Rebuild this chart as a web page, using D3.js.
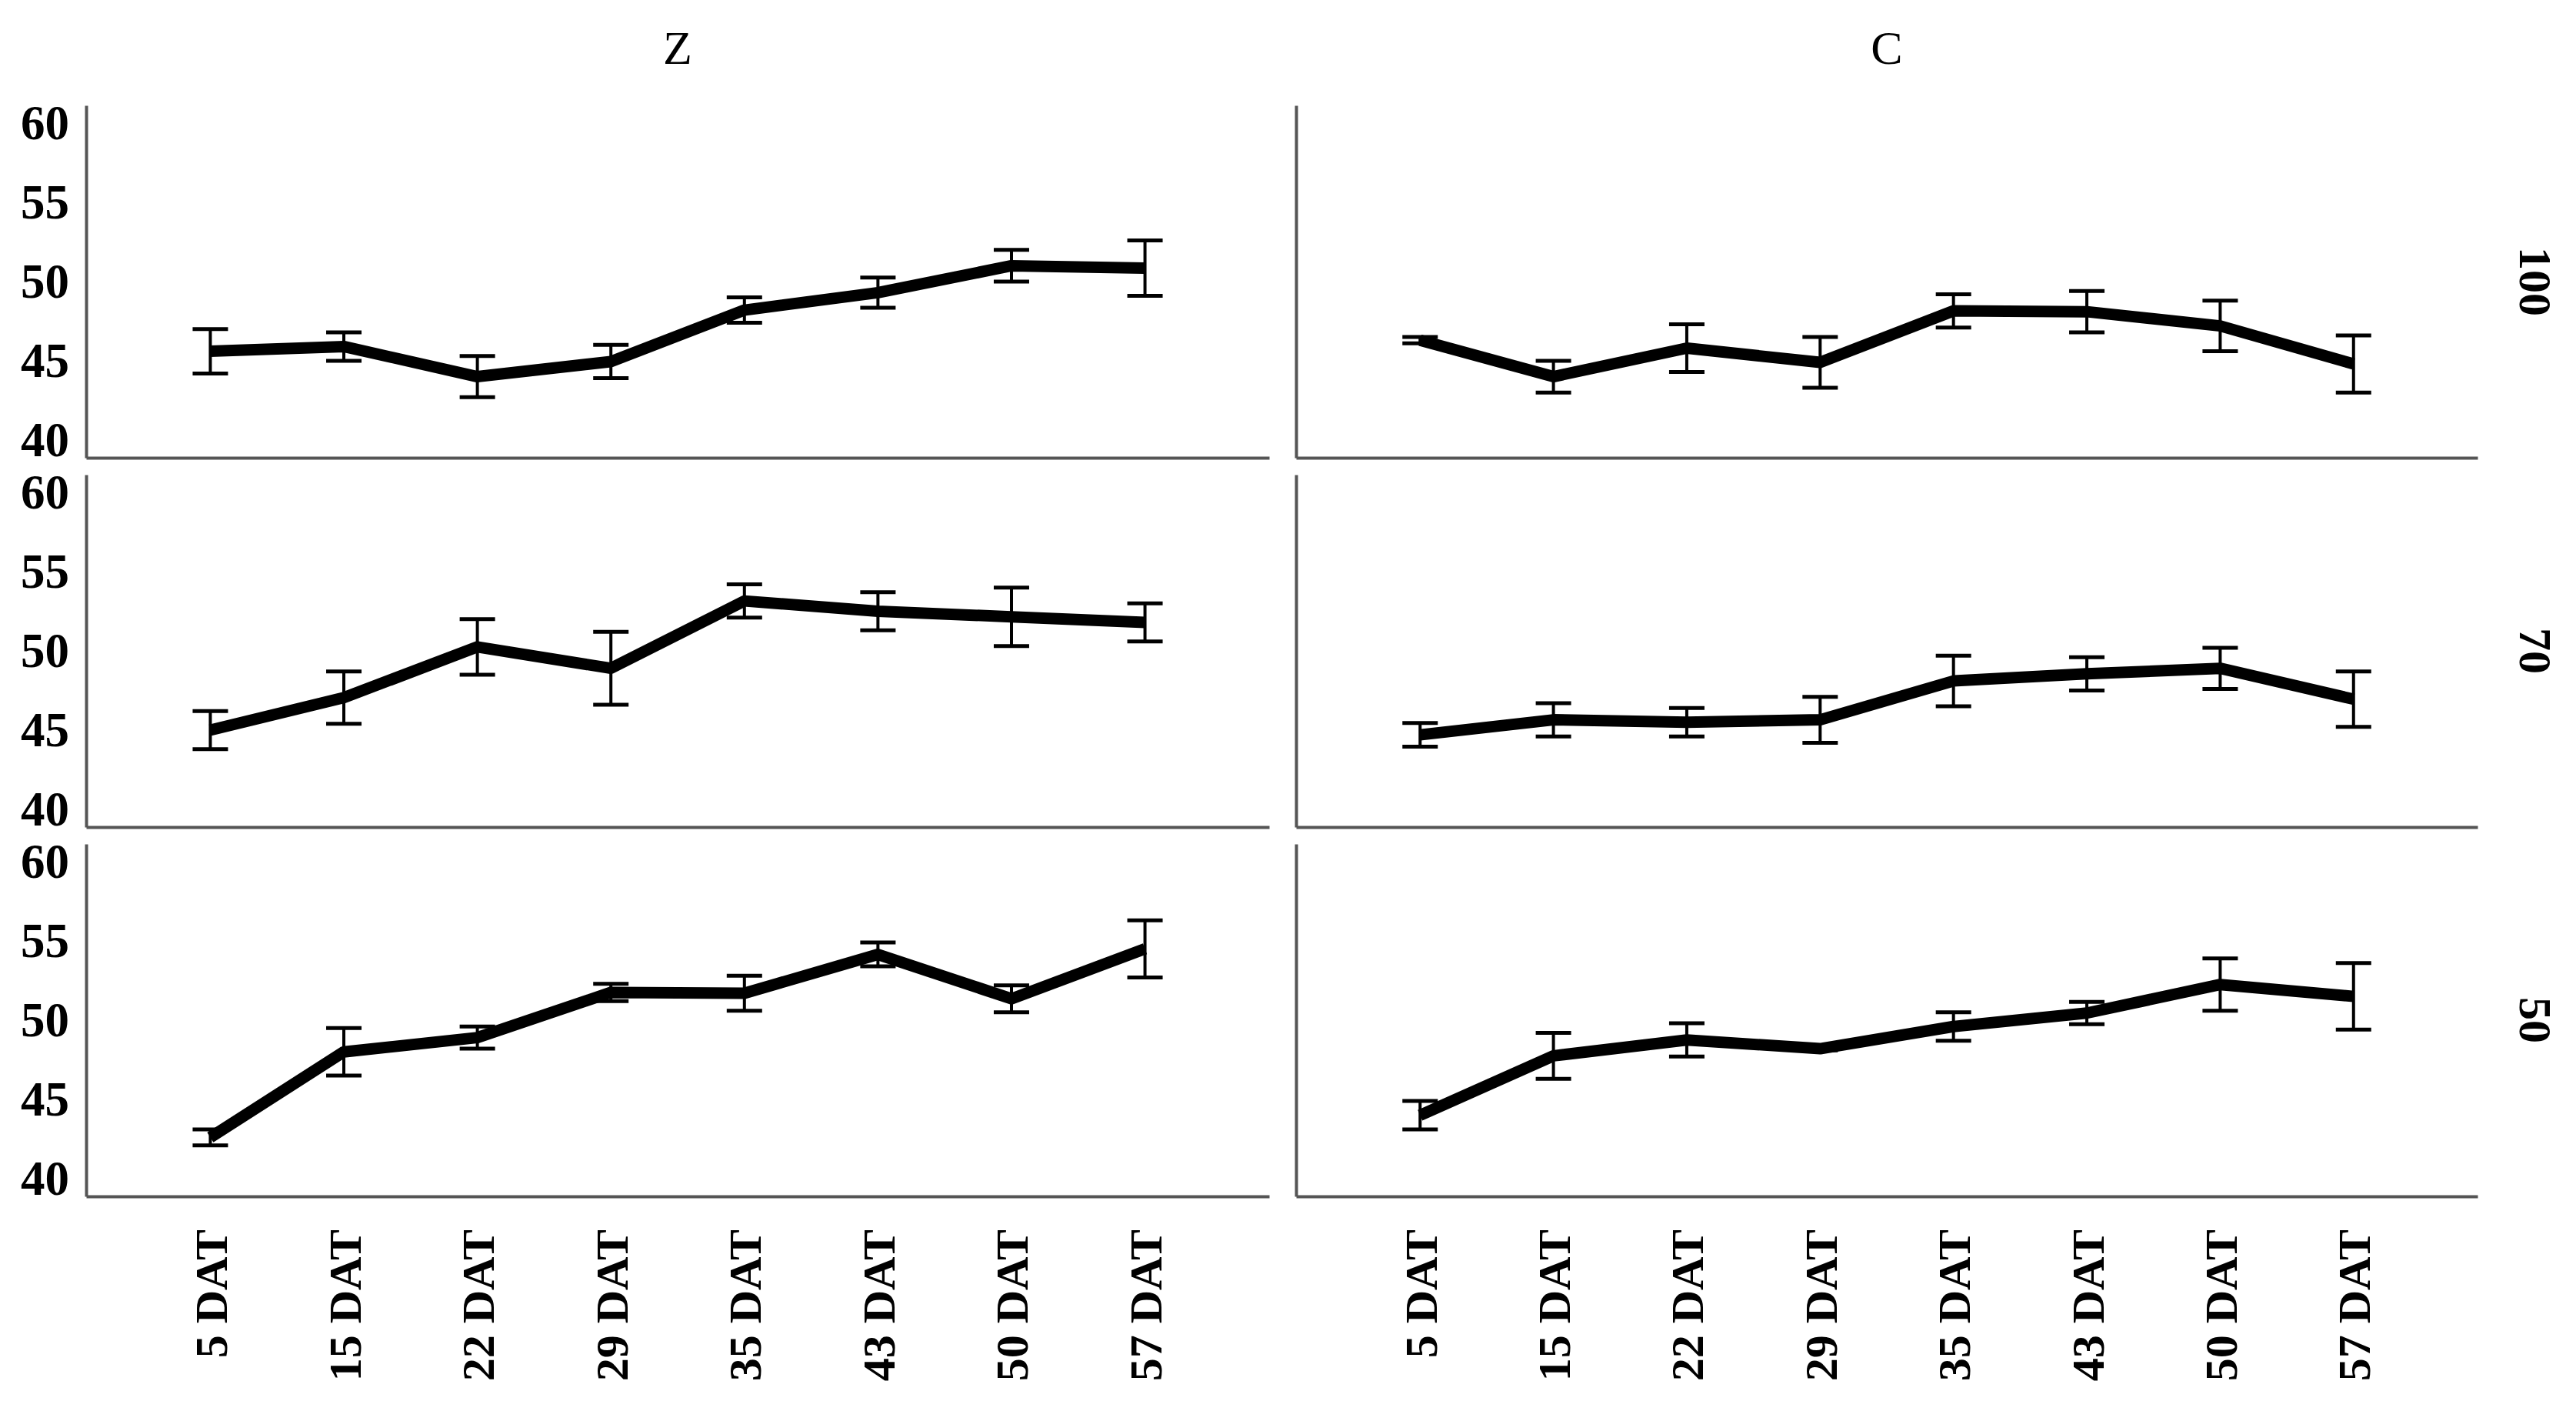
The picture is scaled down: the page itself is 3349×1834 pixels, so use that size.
<!DOCTYPE html>
<html>
<head>
<meta charset="utf-8">
<script src="https://cdn.jsdelivr.net/npm/d3@7"></script>
<style>
  body { margin: 0; background: white; }
</style>
</head>
<body>
<svg id="chart"></svg>
<script>
// line charts with error bars, 3 rows x 2 columns

const days = ["5 DAT", "15 DAT", "22 DAT", "29 DAT", "35 DAT", "43 DAT", "50 DAT", "57 DAT"];
const colNames = ["Z", "C"];
const rowNames = ["100", "70", "50"];
const yTicks = [40, 45, 50, 55, 60];

// means and error (half bar) per panel
const z100 = [45.6, 45.9, 44.0, 44.95, 48.2, 49.3, 51.0, 50.85];
const z100err = [1.4, 0.9, 1.3, 1.05, 0.8, 0.95, 1.0, 1.75];
const c100 = [46.3, 44.0, 45.8, 44.9, 48.15, 48.1, 47.2, 44.8];
const c100err = [0.2, 1.0, 1.5, 1.6, 1.05, 1.3, 1.6, 1.8];

const z70 = [45.0, 47.05, 50.25, 48.9, 53.15, 52.5, 52.15, 51.8];
const z70err = [1.2, 1.65, 1.75, 2.3, 1.05, 1.2, 1.85, 1.2];
const c70 = [44.7, 45.65, 45.5, 45.65, 48.1, 48.55, 48.9, 46.95];
const c70err = [0.75, 1.05, 0.9, 1.45, 1.6, 1.05, 1.3, 1.75];

const z50 = [42.6, 48.0, 48.9, 51.75, 51.7, 54.15, 51.35, 54.5];
const z50err = [0.5, 1.5, 0.7, 0.55, 1.1, 0.75, 0.85, 1.8];
const c50 = [44.0, 47.75, 48.75, 48.2, 49.6, 50.45, 52.25, 51.5];
const c50err = [0.9, 1.45, 1.05, 0.1, 0.9, 0.7, 1.65, 2.1];

const panels = [
  [[z100, z100err], [c100, c100err]],
  [[z70, z70err], [c70, c70err]],
  [[z50, z50err], [c50, c50err]]
];

const width = 3349;
const height = 1834;

const svg = d3.select("#chart").attr("width", width).attr("height", height);

const colX = [[112, 1650], [1685, 3221]];
const rowTop = 137;
const rowStep = 480;
const panelH = 458;

const serif = "'Liberation Serif', 'Times New Roman', serif";
const axisColor = "#555";

// column titles
colNames.forEach((c, j) => {
  svg.append("text")
    .attr("x", (colX[j][0] + colX[j][1]) / 2)
    .attr("y", 83)
    .attr("text-anchor", "middle")
    .attr("font-family", serif)
    .attr("font-size", "62px")
    .attr("fill", "black")
    .text(c);
});

rowNames.forEach((r, i) => {
  const top = rowTop + i * rowStep;
  const bottom = top + panelH;

  const y = d3.scaleLinear().domain([38.88, 61.12]).range([bottom, top]);

  // row label on the right
  svg.append("text")
    .attr("transform", "translate(3297," + ((top + bottom) / 2) + ") rotate(90)")
    .attr("text-anchor", "middle")
    .attr("dy", "0.35em")
    .attr("font-family", serif)
    .attr("font-weight", "bold")
    .attr("font-size", "60px")
    .attr("fill", "black")
    .text(r);

  colNames.forEach((c, j) => {
    const x = d3.scalePoint().domain(days).range(colX[j]).padding(0.93);
    const g = svg.append("g");

    // y axis
    const yAxis = d3.axisLeft(y).tickValues(yTicks).tickSize(0).tickPadding(22);
    if (j == 1) yAxis.tickFormat("");
    const ya = g.append("g").attr("transform", "translate(" + colX[j][0] + ",0)").call(yAxis);
    ya.select(".domain").attr("stroke", axisColor).attr("stroke-width", 4);
    ya.selectAll("text")
      .attr("font-family", serif)
      .attr("font-weight", "bold")
      .attr("font-size", "63px")
      .attr("fill", "black");

    // x axis
    const xAxis = d3.axisBottom(x).tickSize(0);
    if (i < 2) xAxis.tickFormat("");
    const xa = g.append("g").attr("transform", "translate(0," + bottom + ")").call(xAxis);
    xa.select(".domain").attr("stroke", axisColor).attr("stroke-width", 4);
    xa.selectAll("text")
      .attr("transform", "rotate(-90)")
      .attr("x", -43)
      .attr("y", 0)
      .attr("dy", "0.35em")
      .attr("text-anchor", "end")
      .attr("font-family", serif)
      .attr("font-weight", "bold")
      .attr("font-size", "60px")
      .attr("fill", "black");

    const means = panels[i][j][0];
    const errs = panels[i][j][1];
    const pts = days.map((d, k) => ({ day: d, m: means[k], e: errs[k] }));

    // error bars
    const eb = g.append("g").selectAll("g").data(pts).join("g");
    eb.append("line")
      .attr("x1", d => x(d.day)).attr("x2", d => x(d.day))
      .attr("y1", d => y(d.m + d.e)).attr("y2", d => y(d.m - d.e))
      .attr("stroke", "black").attr("stroke-width", 4);
    eb.append("line")
      .attr("x1", d => x(d.day) - 23).attr("x2", d => x(d.day) + 23)
      .attr("y1", d => y(d.m + d.e)).attr("y2", d => y(d.m + d.e))
      .attr("stroke", "black").attr("stroke-width", 5);
    eb.append("line")
      .attr("x1", d => x(d.day) - 23).attr("x2", d => x(d.day) + 23)
      .attr("y1", d => y(d.m - d.e)).attr("y2", d => y(d.m - d.e))
      .attr("stroke", "black").attr("stroke-width", 5);

    // mean line
    const line = d3.line().x(d => x(d.day)).y(d => y(d.m));
    g.append("path")
      .datum(pts)
      .attr("d", line)
      .attr("fill", "none")
      .attr("stroke", "black")
      .attr("stroke-width", 15)
      .attr("stroke-linejoin", "round");
  });
});
</script>
</body>
</html>
